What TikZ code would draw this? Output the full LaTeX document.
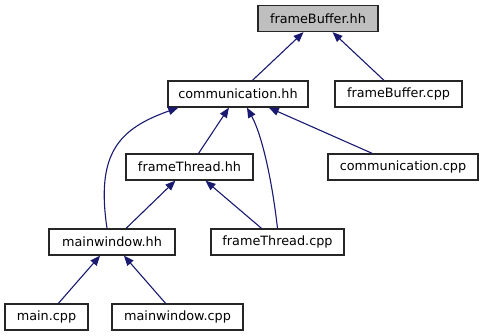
\documentclass[tikz,border=0pt]{standalone}
\usepackage{fontspec}
\setmainfont{DejaVu Sans}
\usetikzlibrary{arrows.meta,calc}
\definecolor{edgeblue}{RGB}{25,25,112}
\definecolor{curgray}{RGB}{191,191,191}
\tikzset{
  filebox/.style={draw=black!85,fill=white,rectangle,line width=1.3pt,minimum height=26pt,inner sep=0pt,font=\fontsize{12.8pt}{15pt}\selectfont},
  curbox/.style={filebox,fill=curgray},
  incarr/.style={-{Triangle[length=10pt,width=8pt]},draw=edgeblue,line width=1.1pt}
}

\begin{document}
\begin{tikzpicture}[x=1pt,y=-1pt]
  \useasboundingbox (0,0) rectangle (485,336);
  % Included header (current file)
  \node[curbox, minimum width=120pt] (fbhh) at (318,18.5) {frameBuffer.hh};

  % Second row
  \node[filebox, minimum width=140pt] (commhh) at (238,94) {communication.hh};
  \node[filebox, minimum width=127pt] (fbcpp) at (398.5,94) {frameBuffer.cpp};

  % Third row
  \node[filebox, minimum width=127pt] (fthh) at (189.5,167) {frameThread.hh};
  \node[filebox, minimum width=150pt] (commcpp) at (403,167) {communication.cpp};

  % Fourth row
  \node[filebox, minimum width=126pt] (mwhh) at (112,242) {mainwindow.hh};
  \node[filebox, minimum width=133pt] (ftcpp) at (277.5,242) {frameThread.cpp};

  % Bottom row
  \node[filebox, minimum width=83pt] (maincpp) at (46.5,317) {main.cpp};
  \node[filebox, minimum width=131pt] (mwcpp) at (177.5,317) {mainwindow.cpp};

  % Include edges
  \draw[incarr] (commhh) -- (fbhh);
  \draw[incarr] (fbcpp) -- (fbhh);
  \draw[incarr] (fthh) -- (commhh);
  \draw[incarr] (commcpp) -- (commhh);
  \draw[incarr] (ftcpp.north) .. controls (272,180) and (262,135) .. ($(commhh.south)+(9,0)$);
  \draw[incarr] ($(mwhh.north)+(-5,0)$) .. controls (96,154) and (118,129) .. ($(commhh.south west)+(11,0)$);
  \draw[incarr] (mwhh) -- (fthh);
  \draw[incarr] (ftcpp) -- (fthh);
  \draw[incarr] (maincpp) -- (mwhh);
  \draw[incarr] (mwcpp) -- (mwhh);
\end{tikzpicture}
\end{document}
